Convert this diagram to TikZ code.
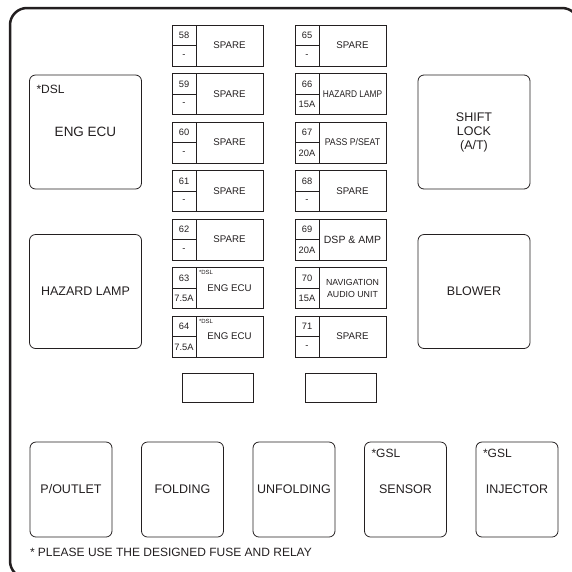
\documentclass[tikz,border=0pt]{standalone}
\usepackage{fontspec}
\setmainfont{Liberation Sans}
\usetikzlibrary{calc}
\definecolor{ink}{HTML}{231F20}
\tikzset{
  every node/.style={inner sep=0pt, outer sep=0pt, text=ink},
  relay/.style={draw=ink, rounded corners=6pt, line width=0.8pt, minimum width=112pt, minimum height=114pt, align=center, font=\fontsize{12.5}{14}\selectfont},
  brelay/.style={relay, minimum width=82pt, minimum height=95pt},
  fuse/.style={draw=ink, line width=1pt, minimum width=91pt, minimum height=41pt},
  fuseline/.style={draw=ink, line width=0.9pt},
  small/.style={font=\fontsize{9.3}{10}\selectfont},
  flabel/.style={font=\fontsize{9.7}{11}\selectfont, align=center},
  navfont/.style={font=\fontsize{8.8}{12}\selectfont},
  dspfont/.style={font=\fontsize{10.5}{12}\selectfont},
  tag/.style={anchor=north west, font=\fontsize{12}{13}\selectfont},
  ftag/.style={anchor=north west, font=\fontsize{6}{7}\selectfont},
  blank/.style={draw=ink, line width=0.9pt, minimum width=71pt, minimum height=29pt},
  frame/.style={draw=ink, line width=2.5pt, rounded corners=17pt}
}
\newcommand\fusebox[7][]{%
  \node[fuse, anchor=north west] (#2) at (#3,#4) {};
  \draw[fuseline] ($(#2.north west)+(24,0)$) -- ($(#2.south west)+(24,0)$);
  \draw[fuseline] (#2.west) -- ($(#2.west)+(24,0)$);
  \node[small] (#2n) at ($(#2.north west)+(12,10.5)$) {#5};
  \node[small] (#2a) at ($(#2.south west)+(12,-10)$) {#6};
  \node[flabel,#1] (#2l) at ($(#2.center)+(12,0)$) {#7};
}
\begin{document}
\begin{tikzpicture}[x=1pt,y=-1pt]
\useasboundingbox (0,0) rectangle (572,571);
\begin{scope}
\clip (0,0) rectangle (572,571);
\draw[frame] (10,8) rectangle (579,578);
\end{scope}

% side relays
\node[relay, font=\fontsize{13.5}{15}\selectfont] (engecu) at (85.5,132) {ENG ECU};
\node[tag] (engecutag) at ($(engecu.north west)+(7,10)$) {*DSL};
\node[relay] (hazard) at (85.5,291.5) {HAZARD LAMP};
\node[relay] (shift) at (474,132) {SHIFT\\LOCK\\(A/T)};
\node[relay] (blower) at (474,291.5) {BLOWER};

% bottom relays
\node[brelay] (poutlet) at (71,489.5) {P/OUTLET};
\node[brelay] (folding) at (182.5,489.5) {FOLDING};
\node[brelay] (unfolding) at (294,489.5) {UNFOLDING};
\node[brelay] (sensor) at (405.5,489.5) {SENSOR};
\node[tag] (sensortag) at ($(sensor.north west)+(7,7)$) {*GSL};
\node[brelay] (injector) at (517,489.5) {INJECTOR};
\node[tag] (injectortag) at ($(injector.north west)+(7,7)$) {*GSL};

% fuses left column
\fusebox{f58}{172}{25}{58}{-}{SPARE}
\fusebox{f59}{172}{73.5}{59}{-}{SPARE}
\fusebox{f60}{172}{122}{60}{-}{SPARE}
\fusebox{f61}{172}{170.5}{61}{-}{SPARE}
\fusebox{f62}{172}{219}{62}{-}{SPARE}
\fusebox{f63}{172}{267.5}{63}{7.5A}{ENG ECU}
\node[ftag] (f63t) at ($(f63.north west)+(27,3)$) {*DSL};
\fusebox{f64}{172}{316}{64}{7.5A}{ENG ECU}
\node[ftag] (f64t) at ($(f64.north west)+(27,3)$) {*DSL};

% fuses right column
\fusebox{f65}{295}{25}{65}{-}{SPARE}
\fusebox{f66}{295}{73.5}{66}{15A}{\scalebox{0.86}[1]{HAZARD LAMP}}
\fusebox{f67}{295}{122}{67}{20A}{\scalebox{0.9}[1]{PASS P/SEAT}}
\fusebox{f68}{295}{170.5}{68}{-}{SPARE}
\fusebox[dspfont]{f69}{295}{219}{69}{20A}{DSP \& AMP}
\fusebox[navfont]{f70}{295}{267.5}{70}{15A}{NAVIGATION\\AUDIO UNIT}
\fusebox{f71}{295}{316}{71}{-}{SPARE}

% blank slots
\node[blank] (blank1) at (217.5,387.5) {};
\node[blank] (blank2) at (341,387.5) {};

% note
\node[anchor=west, font=\fontsize{12}{13}\selectfont] (note) at (30,552) {* PLEASE USE THE DESIGNED FUSE AND RELAY};
\end{tikzpicture}
\end{document}
